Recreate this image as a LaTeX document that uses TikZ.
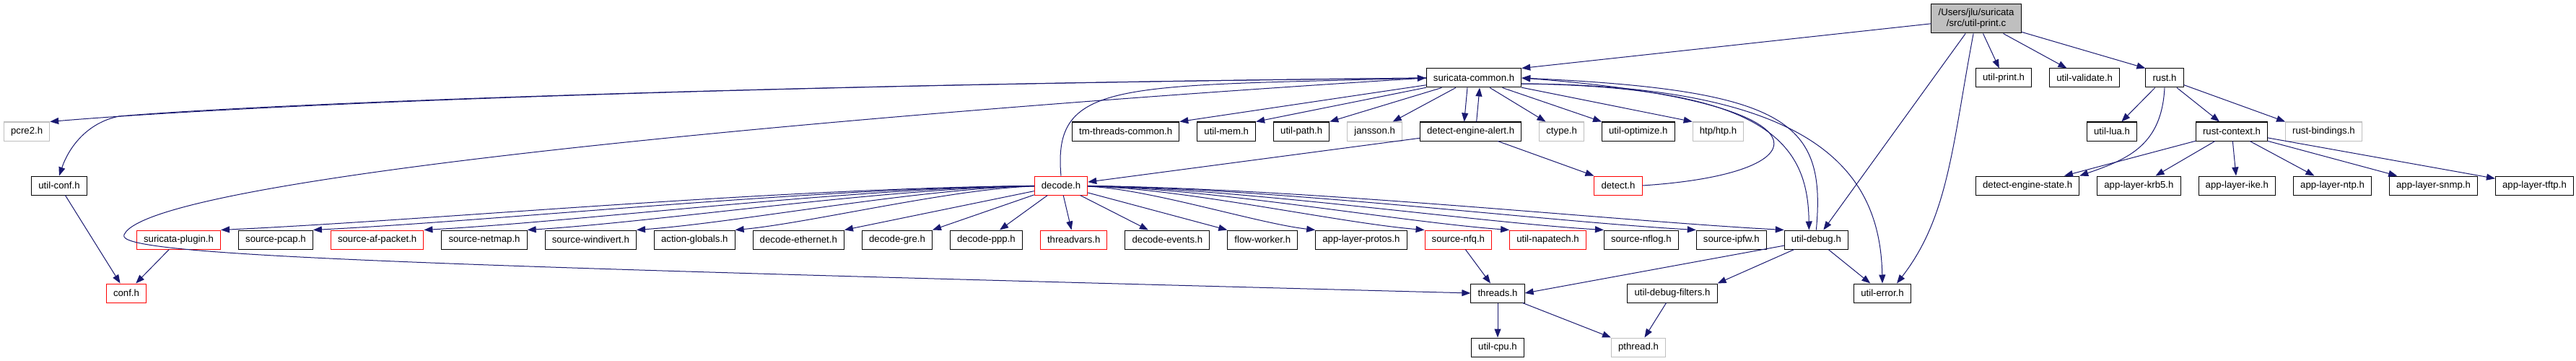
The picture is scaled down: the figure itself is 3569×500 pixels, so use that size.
\documentclass[tikz,border=0pt]{standalone}
\usepackage{fontspec}
\setmainfont{Liberation Sans}
\usepackage{tikz}
\usetikzlibrary{arrows.meta, positioning}
\definecolor{edgeblue}{HTML}{191970}
\definecolor{undocgrey}{HTML}{BFBFBF}
\definecolor{truncred}{HTML}{FF0000}

\begin{document}
\begin{tikzpicture}[
  x=1pt, y=-1pt,
  file/.style={
    rectangle, draw=#1, fill=white, line width=1pt,
    font=\fontsize{13.2}{15}\selectfont,
    minimum height=26pt, inner xsep=9.6pt, inner ysep=0pt,
  },
  file/.default={black},
  rootfile/.style={file, fill=undocgrey, align=center, minimum height=40pt},
  incl/.style={-{Triangle[length=12pt,width=9pt]}, draw=edgeblue, line width=1pt},
  node distance=24pt,
]
  \useasboundingbox (0,0) rectangle (3569,500);

  % Root file
  \node[rootfile] (uprint) at (2738,26) {/Users/jlu/suricata\\/src/util-print.c};

  % Rank 1
  \node[file] (sc) at (2042,108) {suricata-common.h};
  \node[file, anchor=west] (uprinth) at (2737,108) {util-print.h};
  \node[file, right=of uprinth] (uvalidate) {util-validate.h};
  \node[file] (rust) at (2999,108) {rust.h};

  % Rank 2
  \node[file=undocgrey, anchor=west] (pcre2) at (5,182) {pcre2.h};
  \node[file, anchor=west] (tmt) at (1485,182) {tm-threads-common.h};
  \node[file, right=of tmt] (umem) {util-mem.h};
  \node[file, right=of umem] (upath) {util-path.h};
  \node[file=undocgrey, right=of upath] (jansson) {jansson.h};
  \node[file, right=of jansson] (dea) {detect-engine-alert.h};
  \node[file=undocgrey, right=of dea] (ctype) {ctype.h};
  \node[file, right=of ctype] (uopt) {util-optimize.h};
  \node[file=undocgrey, right=of uopt] (htp) {htp/htp.h};
  \node[file] (ulua) at (2926,182) {util-lua.h};
  \node[file] (rctx) at (3092,182) {rust-context.h};
  \node[file=undocgrey, right=of rctx] (rbind) {rust-bindings.h};

  % Rank 3
  \node[file] (uconf) at (82,257) {util-conf.h};
  \node[file=truncred] (decode) at (1470,257) {decode.h};
  \node[file=truncred] (detect) at (2242,257) {detect.h};
  \node[file, anchor=west] (des) at (2737,257) {detect-engine-state.h};
  \node[file, right=of des] (krb5) {app-layer-krb5.h};
  \node[file, right=of krb5] (ike) {app-layer-ike.h};
  \node[file, right=of ike] (ntp) {app-layer-ntp.h};
  \node[file, right=of ntp] (snmp) {app-layer-snmp.h};
  \node[file, right=of snmp] (tftp) {app-layer-tftp.h};

  % Rank 4
  \node[file=truncred, anchor=west] (splugin) at (189,332) {suricata-plugin.h};
  \node[file, right=of splugin] (pcap) {source-pcap.h};
  \node[file=truncred, right=of pcap] (afpacket) {source-af-packet.h};
  \node[file, right=of afpacket] (netmap) {source-netmap.h};
  \node[file, right=of netmap] (windivert) {source-windivert.h};
  \node[file, right=of windivert] (aglobals) {action-globals.h};
  \node[file, right=of aglobals] (deth) {decode-ethernet.h};
  \node[file, right=of deth] (dgre) {decode-gre.h};
  \node[file, right=of dgre] (dppp) {decode-ppp.h};
  \node[file=truncred, right=of dppp] (tvars) {threadvars.h};
  \node[file, right=of tvars] (devents) {decode-events.h};
  \node[file, right=of devents] (fworker) {flow-worker.h};
  \node[file, right=of fworker] (alprotos) {app-layer-protos.h};
  \node[file=truncred, right=of alprotos] (nfq) {source-nfq.h};
  \node[file=truncred, right=of nfq] (napatech) {util-napatech.h};
  \node[file, right=of napatech] (nflog) {source-nflog.h};
  \node[file, right=of nflog] (ipfw) {source-ipfw.h};
  \node[file, right=of ipfw] (udebug) {util-debug.h};

  % Rank 5
  \node[file=truncred] (conf) at (175,406) {conf.h};
  \node[file] (threads) at (2075,406) {threads.h};
  \node[file] (udf) at (2317,406) {util-debug-filters.h};
  \node[file] (uerror) at (2608,406) {util-error.h};

  % Rank 6
  \node[file] (ucpu) at (2075,481) {util-cpu.h};
  \node[file=undocgrey] (pthread) at (2270,481) {pthread.h};

  % util-print.c includes
  \draw[incl] (uprint) -- (sc.north east);
  \draw[incl] (uprint) -- (uprinth);
  \draw[incl] (uprint) -- (uvalidate);
  \draw[incl] (uprint) -- (rust.north west);
  \draw[incl] (uprint) -- ([xshift=10pt]udebug.north);
  \draw[incl] (uprint) .. controls (2705,200) and (2700,300) .. ([xshift=20pt]uerror.north);

  % suricata-common.h includes
  \draw[incl] (sc.west) .. controls (1000,118) and (350,145) .. (pcre2.north east);
  \draw[incl] (sc.west) .. controls (1000,118) and (350,145) .. (165,161)
    .. controls (120,170) and (95,205) .. (uconf.north);
  \draw[incl] (sc.west) .. controls (1300,150) and (210,240) .. (172,325)
    .. controls (155,355) and (600,368) .. (threads.west);
  \draw[incl] (sc) -- (tmt.north east);
  \draw[incl] (sc) -- (umem.north east);
  \draw[incl] (sc) -- (upath.north east);
  \draw[incl] (sc) -- (jansson);
  \draw[incl] ([xshift=-9pt]sc.south) -- ([xshift=-9pt]dea.north);
  \draw[incl] (sc) -- (ctype);
  \draw[incl] (sc) -- (uopt.north west);
  \draw[incl] (sc) -- (htp.north west);
  \draw[incl] ([yshift=-8pt]sc.east) .. controls (2450,120) and (2505,200) .. ([xshift=-10pt]udebug.north);
  \draw[incl] ([yshift=-8pt]sc.east) .. controls (2520,118) and (2605,240) .. (uerror.north);

  % back edges into suricata-common.h
  \draw[incl] ([xshift=8pt]dea.north) -- ([xshift=8pt]sc.south);
  \draw[incl] (decode.north) .. controls (1458,110) and (1550,120) .. (sc.west);
  \draw[incl] (detect.east) .. controls (2540,240) and (2540,140) .. (sc.east);
  \draw[incl] (udebug.north) .. controls (2530,170) and (2480,125) .. (sc.east);

  % detect-engine-alert.h includes
  \draw[incl] (dea) -- (detect.north west);
  \draw[incl] (dea) -- (decode);

  % decode.h includes
  \draw[incl] (decode) .. controls +(-400,4) and +(300,-14) .. (splugin.north east);
  \draw[incl] (decode) .. controls +(-350,4) and +(260,-13) .. (pcap.north east);
  \draw[incl] (decode) .. controls +(-300,4) and +(220,-12) .. (afpacket.north east);
  \draw[incl] (decode) .. controls +(-250,4) and +(180,-11) .. (netmap.north east);
  \draw[incl] (decode) .. controls +(-200,4) and +(140,-10) .. (windivert.north east);
  \draw[incl] (decode) .. controls +(-150,4) and +(100,-9) .. (aglobals.north east);
  \draw[incl] (decode) -- (deth.north east);
  \draw[incl] (decode) -- (dgre.north east);
  \draw[incl] (decode) -- (dppp);
  \draw[incl] (decode) -- (tvars);
  \draw[incl] (decode) -- (devents);
  \draw[incl] (decode) -- (fworker.north west);
  \draw[incl] (decode) .. controls +(120,4) and +(-80,-9) .. (alprotos.north west);
  \draw[incl] (decode) .. controls +(170,4) and +(-120,-10) .. (nfq.north west);
  \draw[incl] (decode) .. controls +(210,4) and +(-150,-11) .. (napatech.north west);
  \draw[incl] (decode) .. controls +(250,4) and +(-180,-11) .. (nflog.north west);
  \draw[incl] (decode) .. controls +(300,4) and +(-210,-12) .. (ipfw.north west);
  \draw[incl] (decode) .. controls +(340,4) and +(-240,-13) .. (udebug.north west);

  % util-debug.h includes
  \draw[incl] (udebug) -- (threads.east);
  \draw[incl] (udebug) -- (udf.north east);
  \draw[incl] (udebug) -- (uerror);

  % lower includes
  \draw[incl] (nfq) -- (threads);
  \draw[incl] (threads) -- (ucpu);
  \draw[incl] (threads) -- (pthread.north west);
  \draw[incl] (udf) -- (pthread);
  \draw[incl] (splugin) -- (conf);
  \draw[incl] (uconf) -- (conf);

  % rust.h includes
  \draw[incl] (rust) -- (ulua);
  \draw[incl] (rust) -- (rctx);
  \draw[incl] (rust) -- (rbind.north west);
  \draw[incl] (rust.south) .. controls (2995,200) and (2950,220) .. (des.north east);

  % rust-context.h includes
  \draw[incl] (rctx) -- (des);
  \draw[incl] (rctx) -- (krb5);
  \draw[incl] (rctx) -- (ike);
  \draw[incl] (rctx) -- (ntp);
  \draw[incl] (rctx) -- (snmp);
  \draw[incl] (rctx) -- (tftp);

\end{tikzpicture}
\end{document}
